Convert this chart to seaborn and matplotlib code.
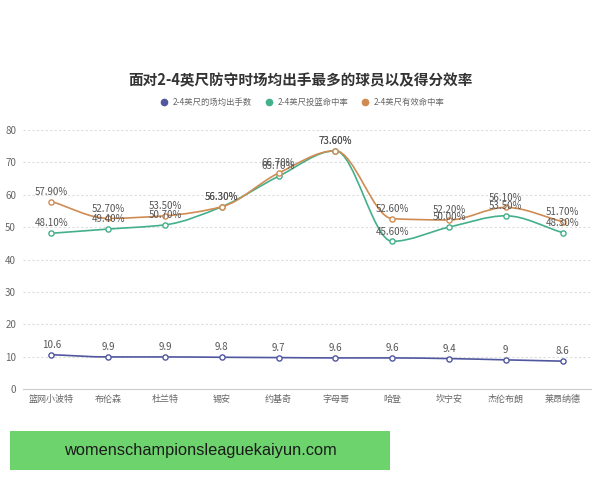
import numpy as np
import pandas as pd
import matplotlib
matplotlib.use("Agg")
import matplotlib.pyplot as plt
from matplotlib.path import Path
from matplotlib.patches import PathPatch, Rectangle
from matplotlib.lines import Line2D
import seaborn as sns

# data
players = ["篮网小波特", "布伦森", "杜兰特", "锡安", "约基奇", "字母哥", "哈登", "坎宁安", "杰伦布朗", "莱昂纳德"]
attempts = [10.6, 9.9, 9.9, 9.8, 9.7, 9.6, 9.6, 9.4, 9, 8.6]
fg_pct = [48.1, 49.4, 50.7, 56.3, 65.7, 73.6, 45.6, 50.0, 53.5, 48.3]
efg_pct = [57.9, 52.7, 53.5, 56.3, 66.7, 73.6, 52.6, 52.2, 56.1, 51.7]

series_names = ["2-4英尺的场均出手数", "2-4英尺投篮命中率", "2-4英尺有效命中率"]
colors = ["#50579f", "#43b08b", "#d08b52"]

sns.set_theme(style="white")
plt.rcParams['font.family'] = ['Noto Sans CJK SC', 'DejaVu Sans']

fig = plt.figure(figsize=(6, 4.8), dpi=100)
ax = fig.add_axes([23 / 600, 1 - 389 / 480, (591 - 23) / 600, (389 - 130) / 480])
ax.set_xlim(-0.5, len(players) - 0.5)
ax.set_ylim(0, 80)

df = pd.DataFrame({"x": np.arange(len(players)), "attempts": attempts, "fg": fg_pct, "efg": efg_pct})


def smooth_path(xs, ys):
    # monotone cubic (no overshoot) drawn as bezier segments
    xs = np.asarray(xs, float)
    ys = np.asarray(ys, float)
    h = np.diff(xs)
    d = np.diff(ys) / h
    n = len(xs)
    m = np.zeros(n)
    m[0], m[-1] = d[0], d[-1]
    for i in range(1, n - 1):
        if d[i - 1] * d[i] <= 0:
            m[i] = 0
        else:
            m[i] = 2 / (1 / d[i - 1] + 1 / d[i])
    verts = [(xs[0], ys[0])]
    codes = [Path.MOVETO]
    for i in range(n - 1):
        verts += [(xs[i] + h[i] / 3, ys[i] + m[i] * h[i] / 3),
                  (xs[i + 1] - h[i] / 3, ys[i + 1] - m[i + 1] * h[i] / 3),
                  (xs[i + 1], ys[i + 1])]
        codes += [Path.CURVE4] * 3
    return Path(verts, codes)


for col, color, fmt in [("attempts", colors[0], "{:g}"), ("fg", colors[1], "{:.2f}%"), ("efg", colors[2], "{:.2f}%")]:
    ax.add_patch(PathPatch(smooth_path(df["x"], df[col]), facecolor="none", edgecolor=color, lw=1.2, zorder=3))
    sns.scatterplot(data=df, x="x", y=col, ax=ax, s=14, color="white", edgecolor=color, linewidth=1, zorder=4)
    for xv, yv in zip(df["x"], df[col]):
        ax.annotate(fmt.format(yv), (xv, yv), xytext=(0, 3.5), textcoords="offset points",
                    ha="center", va="bottom", fontsize=7, color="#555555", zorder=5)

# axes styling
ax.set_yticks(range(0, 81, 10))
ax.set_xticks(range(len(players)))
ax.set_xticklabels(players)
ax.set_xlabel("")
ax.set_ylabel("")
ax.tick_params(axis="x", labelsize=6.5, colors="#666666", length=0, pad=4)
ax.tick_params(axis="y", labelsize=7, colors="#666666", length=0, pad=5)
for y in range(10, 81, 10):
    ax.axhline(y, color="#dddddd", lw=0.8, ls=(0, (2, 2)), zorder=1)
for s in ["top", "right", "left"]:
    ax.spines[s].set_visible(False)
ax.spines["bottom"].set_color("#cccccc")
ax.spines["bottom"].set_linewidth(0.8)

# title and legend
fig.text(0.5, 1 - 80 / 480, "面对2-4英尺防守时场均出手最多的球员以及得分效率",
         ha="center", va="center", fontsize=10.5, fontweight="bold", color="#333333")
handles = [Line2D([], [], marker="o", ls="none", markersize=4.5, color=c) for c in colors]
fig.legend(handles, series_names, loc="center", bbox_to_anchor=(0.5, 1 - 102 / 480), ncol=3,
           frameon=False, fontsize=6, labelcolor="#666666", handletextpad=0.05, columnspacing=1.0)

# green banner at the bottom
fig.patches.append(Rectangle((10 / 600, 1 - 470 / 480), 380 / 600, 39 / 480,
                             transform=fig.transFigure, facecolor="#6dd46d", edgecolor="none"))
fig.text(200 / 600, 1 - 451 / 480, "womenschampionsleaguekaiyun.com",
         ha="center", va="center", fontsize=11.8, color="#1a1a1a", family="Liberation Sans")

fig.savefig("out.png", dpi=100)
